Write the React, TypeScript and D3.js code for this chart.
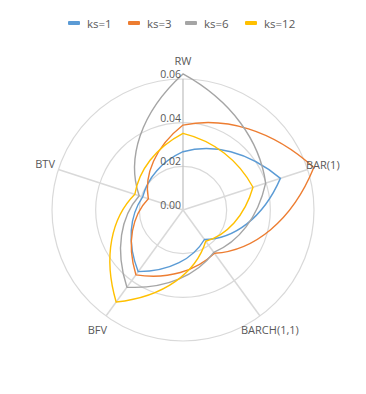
import React from 'react';
import * as d3 from 'd3';

// axes, clockwise from the top
const categories = ['RW', 'BAR(1)', 'BARCH(1,1)', 'BFV', 'BTV'];
const seriesNames = ['ks=1', 'ks=3', 'ks=6', 'ks=12'];
const ks1 = [0.0267, 0.0469, 0.0167, 0.0349, 0.0194];
const ks3 = [0.0389, 0.063, 0.0245, 0.0367, 0.0167];
const ks6 = [0.0623, 0.0398, 0.024, 0.0437, 0.0211];
const ks12 = [0.0351, 0.0337, 0.0177, 0.0521, 0.0232];
const tickValues = [0, 0.02, 0.04, 0.06];
const colors = ['#5b9bd5', '#ed7d31', '#a5a5a5', '#ffc000'];

const W = 366, H = 394;
const cx = 183, cy = 210, R = 131;
const font = '"Open Sans", sans-serif';

const rScale = d3.scaleLinear().domain([0, 0.06]).range([0, R]);
const step = (2 * Math.PI) / categories.length;
const angle = (i: number) => -Math.PI / 2 + i * step;
const pt = (a: number, r: number): [number, number] => [cx + r * Math.cos(a), cy + r * Math.sin(a)];

// smoothed radar line: each edge is a bezier with handles placed in polar space
function radarPath(values: number[]) {
  const p = d3.path();
  const n = values.length;
  const k = step / 3;
  values.forEach((v, i) => {
    const a0 = angle(i), a1 = angle(i + 1);
    const r0 = rScale(v), r1 = rScale(values[(i + 1) % n]);
    const dr = (r1 - r0) / 3;
    if (i === 0) p.moveTo(...pt(a0, r0));
    const c1 = pt(a0 + k, r0 + dr), c2 = pt(a1 - k, r1 - dr), e = pt(a1, r1);
    p.bezierCurveTo(c1[0], c1[1], c2[0], c2[1], e[0], e[1]);
  });
  p.closePath();
  return p.toString();
}

export default function App() {
  const data = [ks1, ks3, ks6, ks12];

  const legendX = [68, 128, 185, 245];

  return (
    <svg width={W} height={H} style={{ position: 'absolute', left: 0, top: 0, background: '#fff' }}>
      {/* rings */}
      {tickValues.slice(1).map((t) => (
        <circle key={t} cx={cx} cy={cy} r={rScale(t)} fill="none" stroke="#d9d9d9" strokeWidth={1.2} />
      ))}
      {/* spokes */}
      {categories.map((c, i) => {
        const e = pt(angle(i), R);
        return (
          <line key={c} x1={cx} y1={cy} x2={e[0]} y2={e[1]}
            stroke={i === 0 ? '#bfbfbf' : '#d9d9d9'} strokeWidth={i === 0 ? 1.2 : 1.5} />
        );
      })}
      {/* series */}
      {data.map((vals, s) => (
        <path key={seriesNames[s]} d={radarPath(vals)} fill="none" stroke={colors[s]} strokeWidth={1.4} />
      ))}
      {/* value labels */}
      {tickValues.map((t) => (
        <text key={t} x={cx - 2} y={cy - rScale(t) - 5} textAnchor="end" dominantBaseline="central"
          fontFamily={font} fontSize={10.5} fill="#595959">{d3.format('.2f')(t)}</text>
      ))}
      {/* category labels */}
      <text x={cx} y={60} textAnchor="middle" dominantBaseline="central" fontFamily={font} fontSize={11} fill="#595959">{categories[0]}</text>
      <text x={306} y={164} textAnchor="start" dominantBaseline="central" fontFamily={font} fontSize={11} fill="#595959">{categories[1]}</text>
      <text x={241} y={329} textAnchor="start" dominantBaseline="central" fontFamily={font} fontSize={11} fill="#595959">{categories[2]}</text>
      <text x={107} y={329} textAnchor="end" dominantBaseline="central" fontFamily={font} fontSize={11} fill="#595959">{categories[3]}</text>
      <text x={55} y={163} textAnchor="end" dominantBaseline="central" fontFamily={font} fontSize={11} fill="#595959">{categories[4]}</text>
      {/* legend */}
      {seriesNames.map((name, s) => (
        <g key={name} transform={`translate(${legendX[s]},23)`}>
          <rect x={0} y={-2} width={12} height={4} rx={1} fill={colors[s]} />
          <text x={19} y={0} dominantBaseline="central" fontFamily={font} fontSize={11.5} fill="#595959">{name}</text>
        </g>
      ))}
    </svg>
  );
}
